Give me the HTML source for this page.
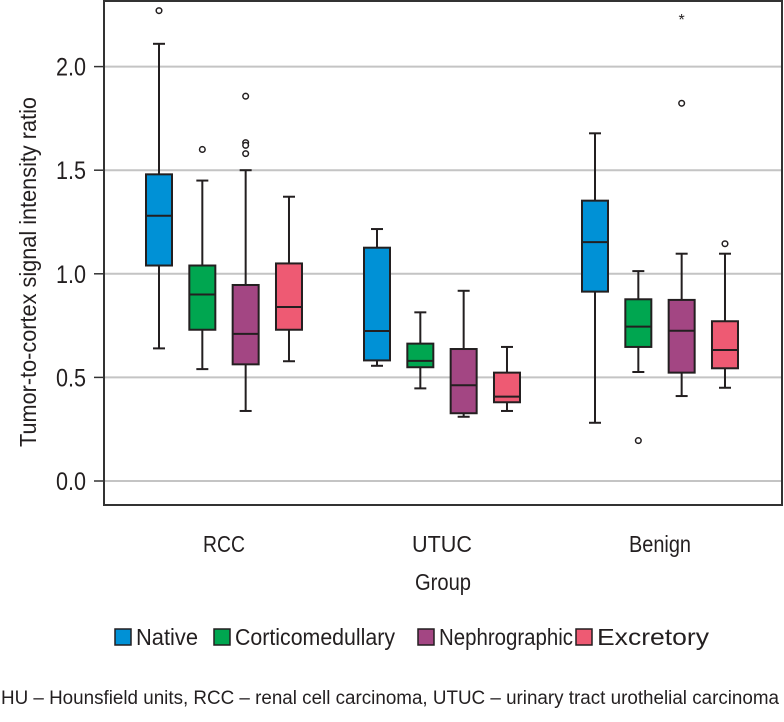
<!DOCTYPE html>
<html><head><meta charset="utf-8"><style>
body{margin:0;background:#fff;}
svg text{font-family:"Liberation Sans Narrow","Liberation Sans",sans-serif;fill:#231f20;}
</style></head><body>
<svg id="chart" width="784" height="717" xmlns="http://www.w3.org/2000/svg">
<g id="grid"></g>
<g id="yaxis"></g>
<g id="boxes"></g>
<rect x="104" y="1" width="678" height="504" fill="none" stroke="#333" stroke-width="2"/>
<g id="xaxis"></g>
<text transform="translate(36,272) rotate(-90)" text-anchor="middle" font-size="23" textLength="350" lengthAdjust="spacingAndGlyphs">Tumor-to-cortex signal intensity ratio</text>
<text x="443" y="590" text-anchor="middle" font-size="23" textLength="56" lengthAdjust="spacingAndGlyphs">Group</text>
<g id="legend"></g>
<text x="1" y="704" font-size="19" textLength="778" lengthAdjust="spacingAndGlyphs">HU – Hounsfield units, RCC – renal cell carcinoma, UTUC – urinary tract urothelial carcinoma</text>
</svg>
<script>
const groups = ["RCC","UTUC","Benign"];
const series = ["Native","Corticomedullary","Nephrographic","Excretory"];
const colors = ["#0091d6","#00a650","#a34683","#ee5a73"];
const yTicks = [0.0,0.5,1.0,1.5,2.0];
// [low, q1, median, q3, high] per group per series
const native = [[0.64,1.04,1.28,1.48,2.11],[0.556,0.582,0.724,1.126,1.216],[0.281,0.914,1.153,1.353,1.678]];
const cortico = [[0.54,0.73,0.90,1.04,1.45],[0.447,0.549,0.58,0.663,0.814],[0.526,0.647,0.745,0.877,1.013]];
const nephro = [[0.338,0.563,0.71,0.946,1.50],[0.31,0.327,0.462,0.637,0.918],[0.41,0.523,0.725,0.874,1.097]];
const excret = [[0.578,0.73,0.84,1.05,1.372],[0.338,0.38,0.407,0.523,0.647],[0.45,0.544,0.632,0.771,1.097]];
const outNative = [[2.27],[],[]];
const outCortico = [[1.60],[],[0.195]];
const outNephro = [[1.857,1.633,1.62,1.58],[],[1.823]];
const outExcret = [[],[],[1.145]];
const extremeNephro = [[],[],[2.24]];

const stats=[native,cortico,nephro,excret];
const outs=[outNative,outCortico,outNephro,outExcret];
const NS="http://www.w3.org/2000/svg";
function y(v){return 481-v*207.2;}
function x(g,s){return 159+g*218+s*43.33;}
function mk(tag,attrs,parent){const e=document.createElementNS(NS,tag);for(const k in attrs)e.setAttribute(k,attrs[k]);parent.appendChild(e);return e;}
const grid=document.getElementById('grid'),ya=document.getElementById('yaxis'),bx=document.getElementById('boxes'),xa=document.getElementById('xaxis'),lg=document.getElementById('legend');
yTicks.forEach(t=>{
  const l=mk('line',{x1:104,x2:782,y1:y(t),y2:y(t),stroke:'#c4c4c4','stroke-width':2},grid);
  
  
  const tk=mk('line',{x1:94,x2:104,y1:y(t),y2:y(t),stroke:'#333','stroke-width':1.5},ya);
  
  
  const tx=mk('text',{x:86,y:y(t)+9,'text-anchor':'end','font-size':25,textLength:30,lengthAdjust:'spacingAndGlyphs'},ya);
  
  
  tx.textContent=t.toFixed(1);
});
const xlw=[42,60,62];
groups.forEach((g,gi)=>{
  const tx=mk('text',{x:x(gi,1.5),y:552,'text-anchor':'middle','font-size':23,textLength:xlw[gi],lengthAdjust:'spacingAndGlyphs'},xa);
  
  
  tx.textContent=g;
  series.forEach((s,si)=>{
    const d=stats[si][gi],cx=x(gi,si),w=26;
    const grp=mk('g',{},bx);
    
    
    const a={stroke:'#231f20','stroke-width':2};
    mk('line',Object.assign({x1:cx,x2:cx,y1:y(d[0]),y2:y(d[4])},a),grp);
    mk('line',Object.assign({x1:cx-6,x2:cx+6,y1:y(d[0]),y2:y(d[0])},a),grp);
    mk('line',Object.assign({x1:cx-6,x2:cx+6,y1:y(d[4]),y2:y(d[4])},a),grp);
    mk('rect',Object.assign({x:cx-w/2,y:y(d[3]),width:w,height:y(d[1])-y(d[3]),fill:colors[si]},a),grp);
    mk('line',Object.assign({x1:cx-w/2,x2:cx+w/2,y1:y(d[2]),y2:y(d[2])},a),grp);
    outs[si][gi].forEach(o=>{
      const c=mk('circle',{cx:cx,cy:y(o),r:2.8,fill:'#fff',stroke:'#231f20','stroke-width':1.5},grp);
      
      
    });
    if(si===2)extremeNephro[gi].forEach(o=>{
      const t=mk('text',{x:cx,y:y(o)+8,'text-anchor':'middle','font-size':16},grp);
      
      
      t.textContent='*';
    });
  });
});
const lx=[115,214,418,576],lw=[62,160,134,112];
series.forEach((s,si)=>{
  const g=mk('g',{},lg);
  
  
  mk('rect',{x:lx[si],y:629,width:16,height:16,fill:colors[si],stroke:'#231f20','stroke-width':1.5},g);
  const t=mk('text',{x:lx[si]+21,y:645,'font-size':23,textLength:lw[si],lengthAdjust:'spacingAndGlyphs'},g);
  t.textContent=s;
});
</script>
</body></html>
